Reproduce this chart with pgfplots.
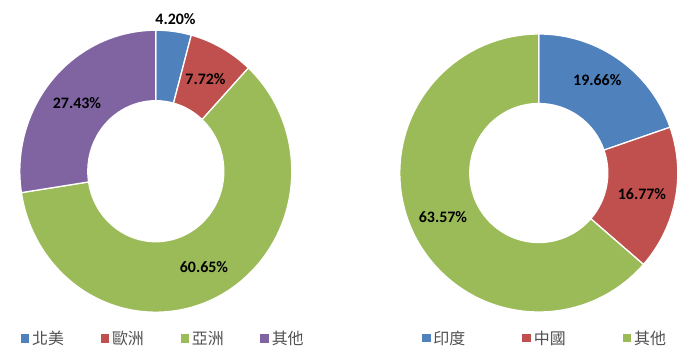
\documentclass[border=0pt]{standalone}
\usepackage{pgfplots}
\pgfplotsset{compat=1.18}
\usepackage{pgfplotstable}
\usepackage{fontspec}
\setmainfont{Carlito}
\newfontfamily\cjk{Noto Sans CJK TC}

\definecolor{cblue}{HTML}{4F81BD}
\definecolor{cred}{HTML}{C0504D}
\definecolor{cgreen}{HTML}{9BBB59}
\definecolor{cpurple}{HTML}{8064A2}
\definecolor{legtext}{HTML}{505050}

% left donut: 北美, 歐洲, 亞洲, 其他
\pgfplotstableread{
idx value
0 4.20
1 7.72
2 60.65
3 27.43
}\leftdata
% right donut: 印度, 中國, 其他
\pgfplotstableread{
idx value
0 19.66
1 16.77
2 63.57
}\rightdata

\colorlet{lcol0}{cblue}
\colorlet{lcol1}{cred}
\colorlet{lcol2}{cgreen}
\colorlet{lcol3}{cpurple}

% #1 table, #2 last row index, #3 outer rx, #4 outer ry, #5 inner rx, #6 inner ry
\newcommand\donut[6]{%
  \def\astart{90}%
  \pgfplotsforeachungrouped \i in {0,...,#2}{%
    \pgfplotstablegetelem{\i}{value}\of#1%
    \pgfmathsetmacro\aend{\astart-3.6*\pgfplotsretval}%
    \edef\tmp{\noexpand\fill[lcol\i,draw=white,line width=1.3bp]
      ([shift={(\astart:#3bp and #4bp)}]axis cs:0,0)
      arc[start angle=\astart,end angle=\aend,x radius=#3bp,y radius=#4bp]
      -- ([shift={(\aend:#5bp and #6bp)}]axis cs:0,0)
      arc[start angle=\aend,end angle=\astart,x radius=#5bp,y radius=#6bp]
      -- cycle;}%
    \tmp
    \global\let\astart\aend
  }%
}

\tikzset{plabel/.style={font=\bfseries\fontsize{16}{19}\selectfont, text=black, inner sep=0pt}}

\pgfplotsset{
  donutaxis/.style={
    hide axis, x=1bp, y=1bp,
    xmin=-150, xmax=150, ymin=-150, ymax=150,
    clip=false, anchor=center,
    legend columns=-1,
    legend image code/.code={\fill[##1] (0bp,-3.75bp) rectangle (7.5bp,3.75bp);},
    legend style={draw=none, fill=none, inner sep=0pt, outer sep=0pt,
      anchor=west, column sep=0pt,
      nodes={inner sep=0pt, outer sep=0pt, text depth=0pt, anchor=center,
        font=\cjk\fontsize{16}{18}\selectfont, text=legtext}},
  },
}

\begin{document}
\begin{tikzpicture}
\useasboundingbox (0,0) rectangle (692bp,356bp);

\begin{axis}[donutaxis, at={(155.8bp,184.8bp)},
  legend style={at={(rel axis cs:0.0497,-0.056)}}]
  \donut{\leftdata}{3}{136}{141}{68}{70.5}
  \addlegendimage{cblue}\addlegendentry{\hspace{3.5bp}\makebox[68.5bp][l]{北美}}
  \addlegendimage{cred}\addlegendentry{\hspace{3.5bp}\makebox[68.5bp][l]{歐洲}}
  \addlegendimage{cgreen}\addlegendentry{\hspace{3.5bp}\makebox[68.5bp][l]{亞洲}}
  \addlegendimage{cpurple}\addlegendentry{\hspace{3.5bp}\makebox[30bp][l]{其他}}
  \node[plabel] at (axis cs:19.7,152.2) {4.20\%};
  \node[plabel] at (axis cs:49.7,92.2) {7.72\%};
  \node[plabel] at (axis cs:-78.8,68.2) {27.43\%};
  \node[plabel] at (axis cs:48.2,-95.5) {60.65\%};
\end{axis}

\begin{axis}[donutaxis, at={(538.8bp,183bp)},
  legend style={at={(rel axis cs:0.1107,-0.0497)}}]
  \donut{\rightdata}{2}{139}{139}{69}{69.5}
  \addlegendimage{cblue}\addlegendentry{\hspace{3.5bp}\makebox[89bp][l]{印度}}
  \addlegendimage{cred}\addlegendentry{\hspace{3.5bp}\makebox[89bp][l]{中國}}
  \addlegendimage{cgreen}\addlegendentry{\hspace{3.5bp}\makebox[30bp][l]{其他}}
  \node[plabel] at (axis cs:58.5,93) {19.66\%};
  \node[plabel] at (axis cs:103.2,-21) {16.77\%};
  \node[plabel] at (axis cs:-95.8,-44.3) {63.57\%};
\end{axis}
\end{tikzpicture}
\end{document}
